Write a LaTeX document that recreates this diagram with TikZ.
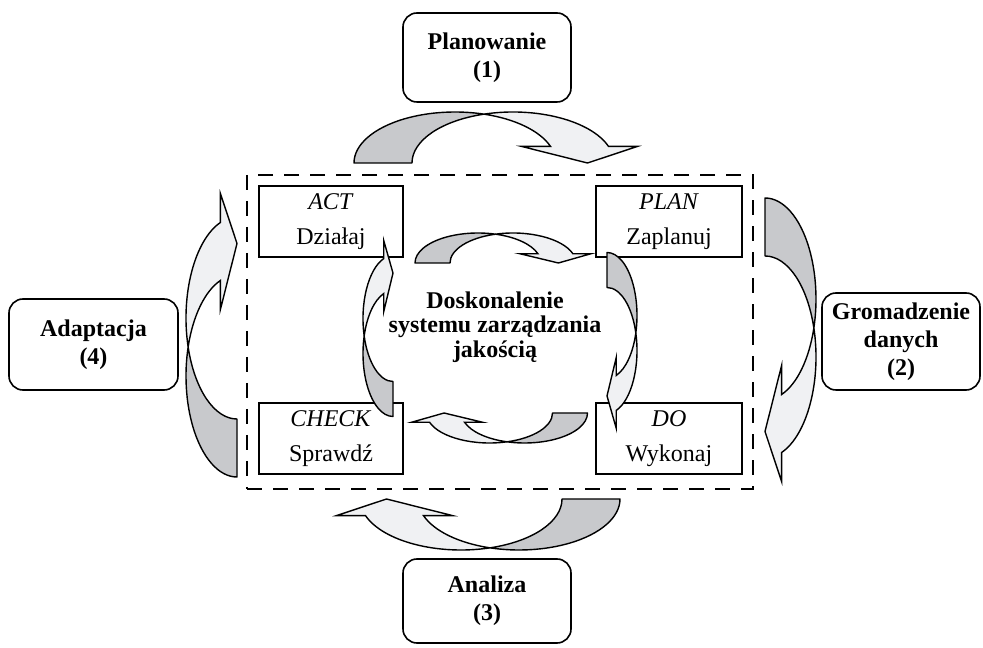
\documentclass[tikz,border=0pt]{standalone}
\usepackage{fontspec}
\setmainfont{Liberation Serif}
\definecolor{backgray}{RGB}{200,201,204}
\definecolor{frontgray}{RGB}{240,241,243}
\tikzset{
  backface/.style={fill=backgray,draw=black,line width=1.4pt,line join=round},
  frontface/.style={fill=frontgray,draw=black,line width=1.4pt,line join=miter},
  roundbox/.style={draw=black,line width=1.6pt,rounded corners=14pt,fill=white,inner sep=0pt,align=center,font=\fontsize{24}{28}\selectfont\bfseries},
  pdcabox/.style={draw=black,line width=1.5pt,fill=white,inner sep=0pt,align=center,font=\fontsize{24}{35}\selectfont},
  framebox/.style={draw=black,line width=1.6pt,dash pattern=on 15pt off 11pt,inner sep=0pt},
}
\newcommand{\curvarrow}[8]{%
\begin{scope}[#2]
\pgfmathsetmacro\tc{acos(#5/#3)}
\pgfmathsetmacro\tcb{180-\tc}
\pgfmathsetmacro\hx{#3*cos(#6)}
\pgfmathsetmacro\hy{#4*sin(#6)}
\coordinate (#1-c) at (0,{#4*sin(\tc)});
\coordinate (#1-p1) at ({-#5+\hx},\hy);
\coordinate (#1-w1) at ({-#5+\hx-#7},\hy);
\coordinate (#1-w2) at ({#5+\hx+#7},\hy);
\coordinate (#1-tp) at ({\hx+#8},0);
\coordinate (#1-f1) at ({-#5-#3},0);
\filldraw[backface] (#1-f1) arc[start angle=180,end angle=\tc,x radius=#3pt,y radius=#4pt]
   arc[start angle=\tcb,end angle=180,x radius=#3pt,y radius=#4pt] -- cycle;
\filldraw[frontface] (#1-c) arc[start angle=\tcb,end angle=#6,x radius=#3pt,y radius=#4pt]
   -- (#1-w2) -- (#1-tp) -- (#1-w1) -- (#1-p1)
   arc[start angle=#6,end angle=\tc,x radius=#3pt,y radius=#4pt] -- cycle;
\end{scope}}
\begin{document}
\begin{tikzpicture}[x=1pt,y=1pt]
\useasboundingbox (0,0) rectangle (983,648);
% frame
\node[framebox,minimum width=506pt,minimum height=314pt] (frame) at (500,316) {};
% phase boxes
\node[roundbox,minimum width=168pt,minimum height=89pt] (plan1) at (487,590.5) {Planowanie\\(1)};
\node[roundbox,minimum width=158pt,minimum height=97pt] (gath2) at (901,306.5) {Gromadzenie\\danych\\(2)};
\node[roundbox,minimum width=168pt,minimum height=84pt] (anal3) at (487,47) {Analiza\\(3)};
\node[roundbox,minimum width=169pt,minimum height=91pt] (adap4) at (93.5,303.5) {Adaptacja\\(4)};
% PDCA boxes
\node[pdcabox,minimum width=144pt,minimum height=71pt] (act) at (331,426.5) {\textit{ACT}\\Działaj};
\node[pdcabox,minimum width=146pt,minimum height=71pt] (plan) at (669,426.5) {\textit{PLAN}\\Zaplanuj};
\node[pdcabox,minimum width=144pt,minimum height=71pt] (check) at (331,209.5) {\textit{CHECK}\\Sprawdź};
\node[pdcabox,minimum width=146pt,minimum height=71pt] (do) at (669,209.5) {\textit{DO}\\Wykonaj};
% outer arrows
\curvarrow{ot}{shift={(484,485)}}{101}{51}{29}{19}{29}{8}
\curvarrow{or}{shift={(765,320)},rotate=-90}{101}{51}{29}{19}{29}{8}
\curvarrow{ob}{shift={(490,149)},rotate=180}{101}{51}{29}{19}{29}{8}
\curvarrow{ol}{shift={(237,301)},rotate=90}{101}{51}{29}{19}{29}{8}
% inner arrows
\curvarrow{it}{shift={(495.5,385)}}{63}{30}{17.5}{18}{18}{3}
\curvarrow{ir}{shift={(607,315)},rotate=-90}{63}{30}{17.5}{18}{18}{3}
\curvarrow{ib}{shift={(507,235)},rotate=180}{63}{30}{17.5}{18}{18}{3}
\curvarrow{il}{shift={(393,312)},rotate=90}{63}{30}{17.5}{18}{18}{3}
% centre text
\node[align=center,font=\fontsize{24}{24.5}\selectfont\bfseries] (centre) at (495,321) {Doskonalenie\\systemu zarządzania\\jakością};
\end{tikzpicture}
\end{document}
